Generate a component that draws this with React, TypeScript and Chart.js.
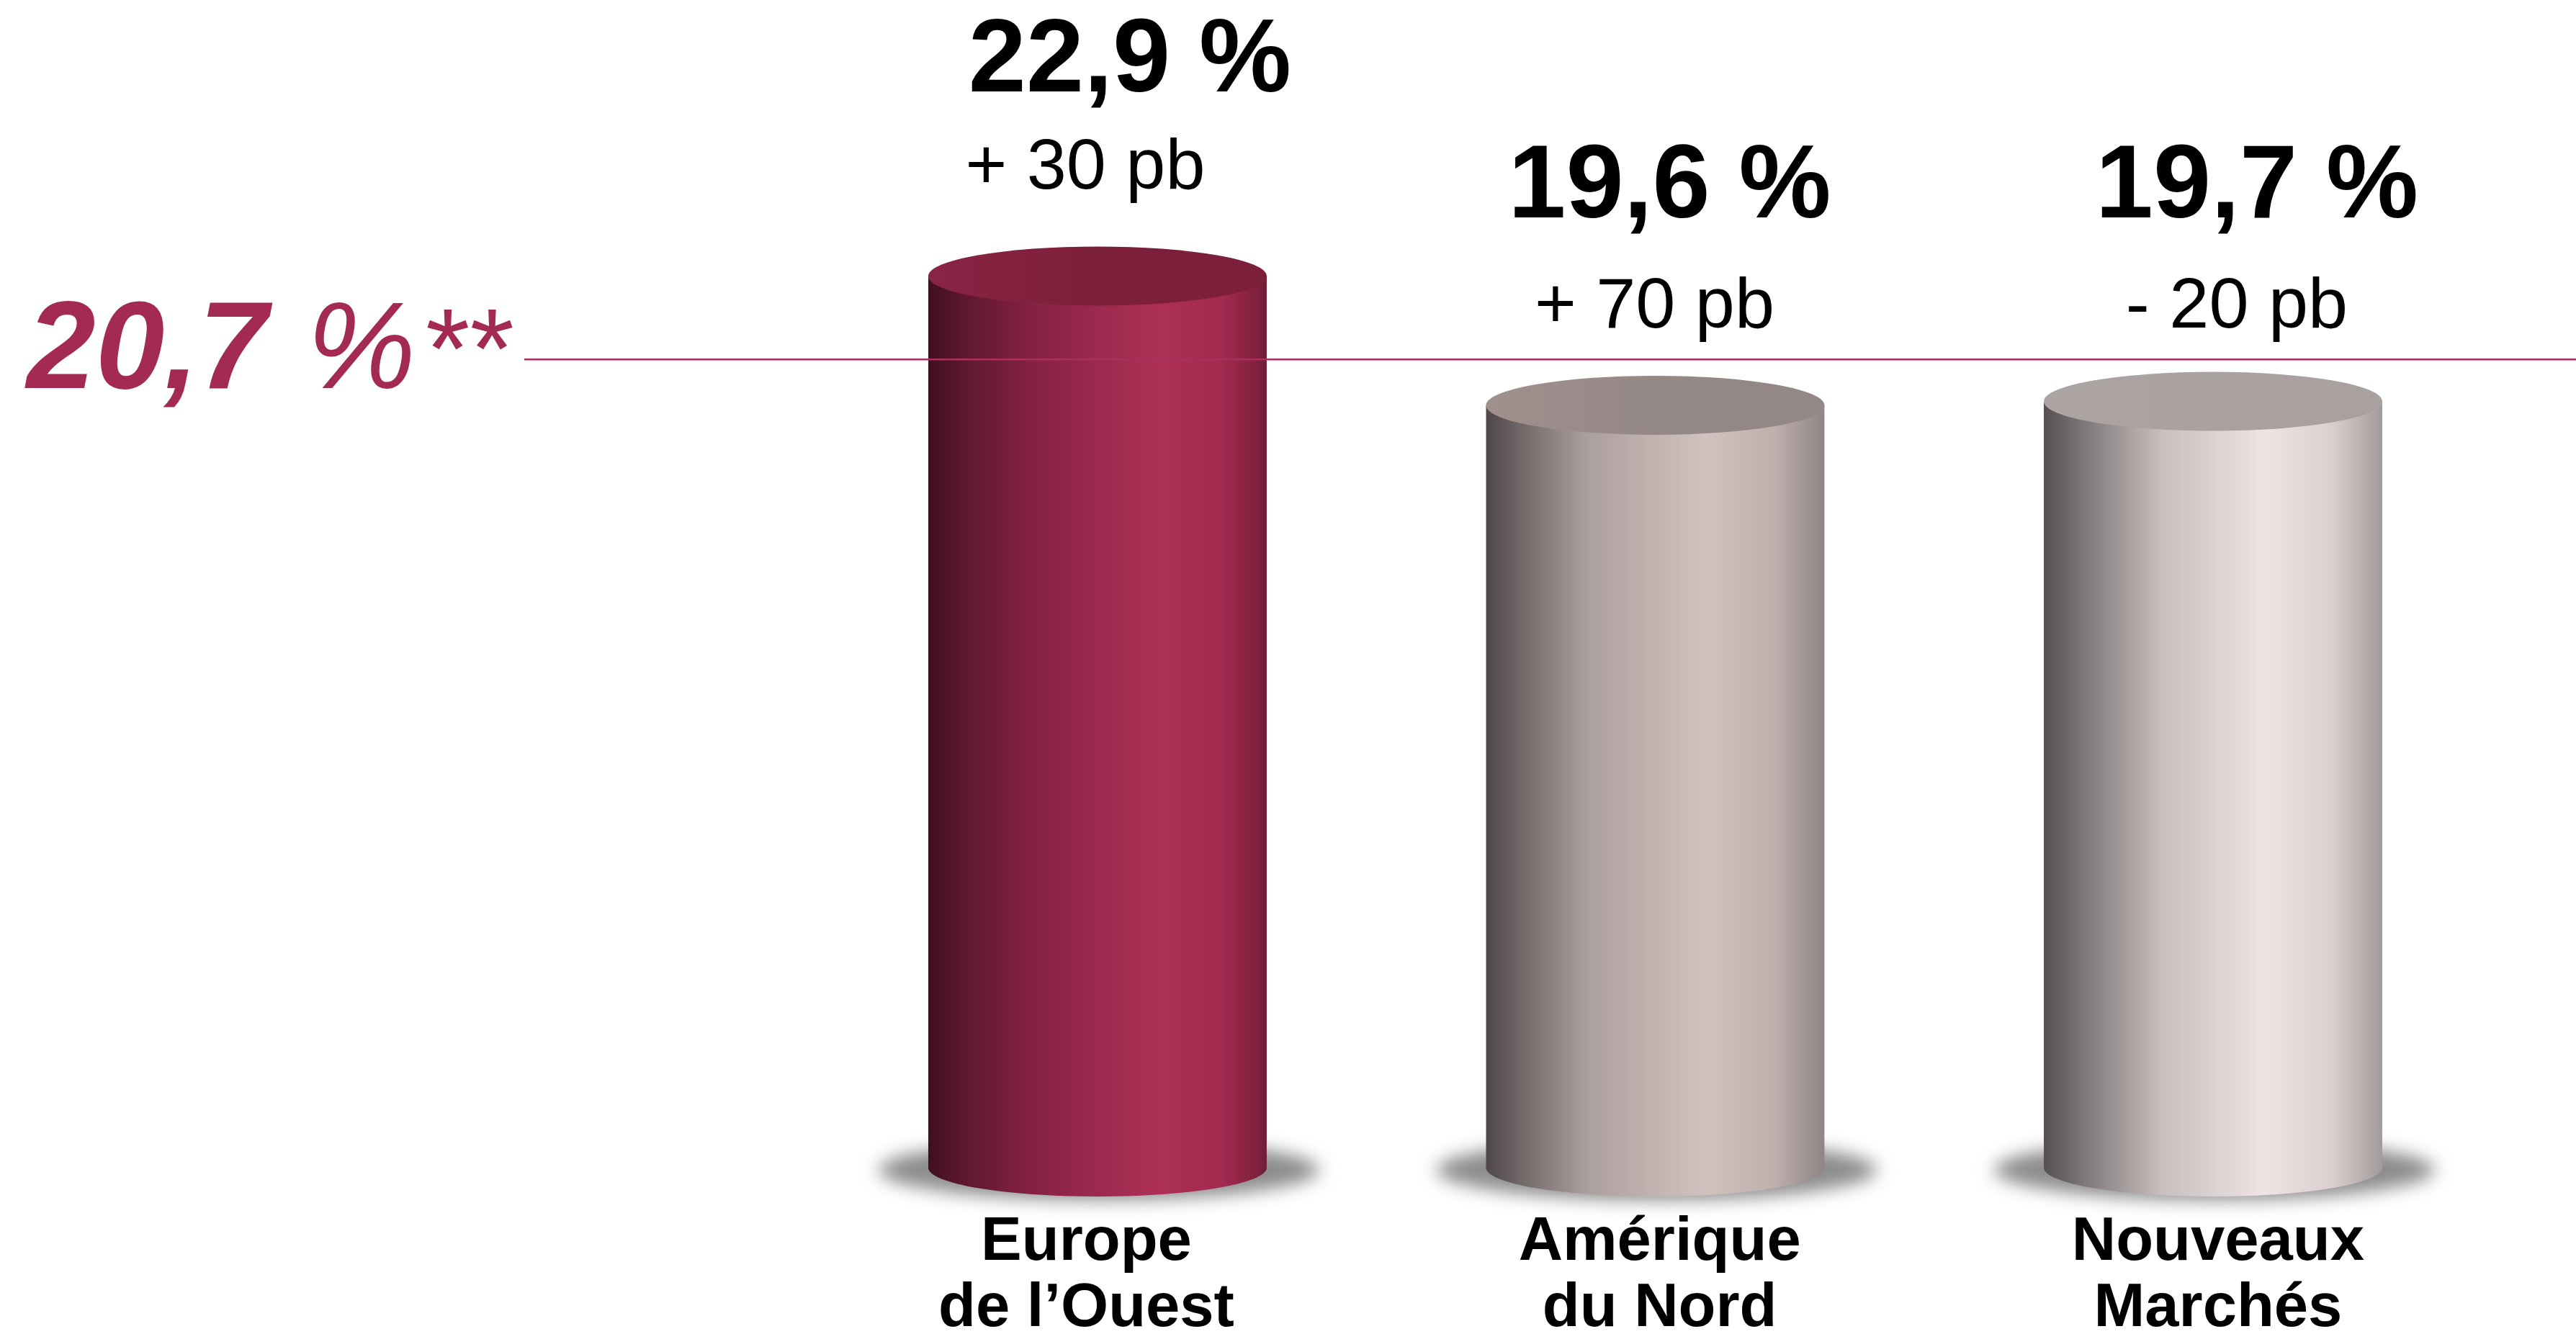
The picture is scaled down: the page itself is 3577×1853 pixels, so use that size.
import React, { useEffect, useRef } from "react";
import { Chart, registerables } from "chart.js";

Chart.register(...registerables);

// ---- data ----
const categories: string[][] = [["Europe", "de l’Ouest"], ["Amérique", "du Nord"], ["Nouveaux", "Marchés"]];
const marginValues: number[] = [22.9, 19.6, 19.7];
const valueLabels: string[] = ["22,9 %", "19,6 %", "19,7 %"];
const deltaLabels: string[] = ["+ 30 pb", "+ 70 pb", "- 20 pb"];
const referenceValue = 20.7;
const referenceLabelParts: string[] = ["20,7", " %", "**"];

// ---- style ----
const FONT = '"Liberation Sans", Arial, sans-serif';
const REF_COLOR = "#a32a50";
const BAR_W = 470;
const CAP_OFFSET = 3.9;
const CAP_RY = 41;
const BOTTOM_RY = 40;
const BOTTOM_LIFT = 3;
const sideStops: [number, string][][] = [
  [[0, "#3f0f20"], [0.1, "#5c1730"], [0.3, "#842142"], [0.5, "#9b2a4e"], [0.68, "#ad2f55"], [0.87, "#a32a50"], [0.96, "#84223f"], [1, "#6e1f38"]],
  [[0, "#4f4747"], [0.1, "#6f6767"], [0.3, "#aca09e"], [0.65, "#d2c2bf"], [0.85, "#bfafad"], [1, "#8f8684"]],
  [[0, "#565051"], [0.1, "#777272"], [0.35, "#c8bfbe"], [0.65, "#efe3e3"], [0.85, "#dbd0cf"], [1, "#a29a9a"]],
];
const capStops: [string, string][] = [["#8a2444", "#7b1f3a"], ["#a0908e", "#948886"], ["#ada4a4", "#a9a0a0"]];
const valueDx = [45, 20, 61];
const valueBaseline = [127, 302, 302];
const deltaDx = [-17, -1, 33];
const deltaBaseline = [262, 455, 455];
const labelNudge = [-0.02, 0.008, 0.009];
const refFonts = [`italic bold 172px ${FONT}`, `italic 170px ${FONT}`, `italic 158px ${FONT}`];
const refGaps = [0, 7, 7];

function sideGradient(ctx: CanvasRenderingContext2D, cx: number, i: number) {
  const g = ctx.createLinearGradient(cx - BAR_W / 2, 0, cx + BAR_W / 2, 0);
  sideStops[i].forEach(([o, c]) => g.addColorStop(o, c));
  return g;
}

const cylinderPlugin = {
  id: "cylinders",
  beforeDatasetDraw(chart: any, args: any) {
    if (args.index !== 0) return;
    const ctx = chart.ctx;
    const { x, y } = chart.scales;
    const base = y.getPixelForValue(0) - BOTTOM_LIFT;
    ctx.save();
    marginValues.forEach((_, i) => {
      const cx = x.getPixelForValue(i);
      ctx.save();
      ctx.filter = "blur(12px)";
      ctx.fillStyle = "#8c8c8c";
      ctx.beginPath();
      ctx.ellipse(cx + 2, base + 3, 306, 42, 0, 0, Math.PI * 2);
      ctx.fill();
      ctx.restore();
    });
    ctx.beginPath();
    marginValues.forEach((v, i) => {
      const cx = x.getPixelForValue(i);
      const top = y.getPixelForValue(v) + CAP_OFFSET;
      ctx.rect(cx - BAR_W / 2, top, BAR_W, base - top);
    });
    ctx.clip();
  },
  afterDatasetDraw(chart: any, args: any) {
    if (args.index !== 0) return;
    const ctx = chart.ctx;
    ctx.restore();
    const { x, y } = chart.scales;
    const base = y.getPixelForValue(0) - BOTTOM_LIFT;
    marginValues.forEach((v, i) => {
      const cx = x.getPixelForValue(i);
      const top = y.getPixelForValue(v) + CAP_OFFSET;
      ctx.fillStyle = sideGradient(ctx, cx, i);
      ctx.beginPath();
      ctx.moveTo(cx - BAR_W / 2, base - 1);
      ctx.lineTo(cx + BAR_W / 2, base - 1);
      ctx.ellipse(cx, base, BAR_W / 2, BOTTOM_RY, 0, 0, Math.PI);
      ctx.closePath();
      ctx.fill();
      const g = ctx.createLinearGradient(cx - BAR_W / 2, 0, cx, 0);
      g.addColorStop(0, capStops[i][0]);
      g.addColorStop(1, capStops[i][1]);
      ctx.fillStyle = g;
      ctx.beginPath();
      ctx.ellipse(cx, top, BAR_W / 2, CAP_RY, 0, 0, Math.PI * 2);
      ctx.fill();
    });
  },
  afterDraw(chart: any) {
    const ctx = chart.ctx;
    const { x, y } = chart.scales;
    ctx.save();
    ctx.fillStyle = "#000";
    ctx.textAlign = "center";
    ctx.textBaseline = "alphabetic";
    marginValues.forEach((_, i) => {
      const cx = x.getPixelForValue(i);
      ctx.font = `bold 144px ${FONT}`;
      ctx.fillText(valueLabels[i], cx + valueDx[i], valueBaseline[i]);
      ctx.font = `99px ${FONT}`;
      ctx.fillText(deltaLabels[i], cx + deltaDx[i], deltaBaseline[i]);
    });
    ctx.textAlign = "left";
    ctx.fillStyle = REF_COLOR;
    const baseline = y.getPixelForValue(referenceValue) + 40;
    let px = 37;
    referenceLabelParts.forEach((part, i) => {
      ctx.font = refFonts[i];
      px += refGaps[i];
      ctx.fillText(part, px, baseline);
      px += ctx.measureText(part).width;
    });
    ctx.restore();
  },
};

export default function App() {
  const ref = useRef<HTMLCanvasElement>(null);
  useEffect(() => {
    document.body.style.margin = "0";
    document.body.style.background = "#ffffff";
    const xMin = -1.0277;
    const xMax = 2.6508;
    const chart = new Chart(ref.current as HTMLCanvasElement, {
      type: "bar",
      data: {
        datasets: [
          {
            type: "bar",
            data: marginValues.map((v, i) => ({ x: i, y: v })),
            barThickness: BAR_W,
            order: 2,
            backgroundColor: (c: any) => {
              const sx = c.chart.scales.x;
              const px = sx ? sx.getPixelForValue(c.dataIndex) : NaN;
              if (c.dataIndex === undefined || !Number.isFinite(px)) return "#a32a50";
              return sideGradient(c.chart.ctx, px, c.dataIndex);
            },
          },
          {
            type: "line",
            data: [{ x: xMin, y: referenceValue }, { x: xMax, y: referenceValue }],
            borderColor: "#a8305a",
            borderWidth: 2.5,
            pointRadius: 0,
            order: 1,
          },
        ],
      } as any,
      options: {
        animation: false,
        responsive: false,
        devicePixelRatio: 1,
        layout: { padding: { left: 728, right: 0, top: 0, bottom: 0 } },
        plugins: { legend: { display: false }, tooltip: { enabled: false } },
        scales: {
          x: {
            type: "linear",
            offset: false,
            min: xMin,
            max: xMax,
            grid: { display: false, offset: false },
            border: { display: false },
            afterBuildTicks: (s: any) => {
              s.ticks = categories.map((_, i) => ({ value: i + labelNudge[i] }));
            },
            afterFit: (s: any) => {
              s.height = 228;
            },
            ticks: {
              autoSkip: false,
              maxRotation: 0,
              minRotation: 0,
              padding: 48,
              color: "#000",
              font: { family: FONT, size: 85, weight: "bold", lineHeight: 1.082 },
              callback: (v: any) => categories[Math.round(Number(v))],
            },
          },
          y: { display: false, min: 0, max: 29.88 },
        },
      } as any,
      plugins: [cylinderPlugin as any],
    });
    return () => chart.destroy();
  }, []);
  return <canvas ref={ref} width={3577} height={1853} style={{ display: "block", width: 3577, height: 1853 }} />;
}
